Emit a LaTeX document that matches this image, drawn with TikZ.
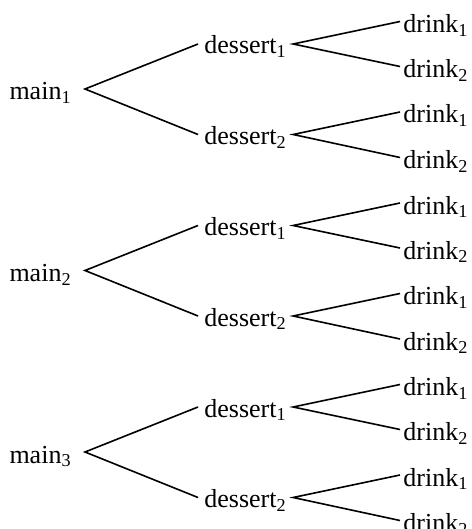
\documentclass[tikz,border=0pt]{standalone}
\usepackage{fontspec}
\setmainfont{Liberation Serif}
\begin{document}
\begin{tikzpicture}[x=0.5pt,y=-0.5pt,
  lbl/.style={font=\fontsize{13}{15}\selectfont, inner ysep=0pt, text depth=0pt},
  mainnode/.style={lbl, anchor=east, inner xsep=6.5pt, text height=11pt},
  dessertnode/.style={lbl, anchor=west, inner xsep=3pt, text height=10pt},
  drinknode/.style={lbl, anchor=west, inner xsep=1.5pt, text height=11pt},
  edge/.style={line width=0.8pt}]
\useasboundingbox (0,0) rectangle (471,529);
\foreach \g/\n in {0/1,1/2,2/3}{
  \pgfmathsetmacro{\oy}{89+181.5*\g}
  \node[mainnode] (m\n) at (85,\oy) {main\textsubscript{\n}};
  \node[dessertnode] (d\n a) at (198,\oy-45) {dessert\textsubscript{1}};
  \node[dessertnode] (d\n b) at (198,\oy+45.5) {dessert\textsubscript{2}};
  \node[drinknode] (k\n a1) at (400,\oy-67.5) {drink\textsubscript{1}};
  \node[drinknode] (k\n a2) at (400,\oy-22.5) {drink\textsubscript{2}};
  \node[drinknode] (k\n b1) at (400,\oy+23) {drink\textsubscript{1}};
  \node[drinknode] (k\n b2) at (400,\oy+68.5) {drink\textsubscript{2}};
  \draw[edge] (d\n a.west) -- (m\n.east) -- (d\n b.west);
  \draw[edge] (k\n a1.west) -- (d\n a.east) -- (k\n a2.west);
  \draw[edge] (k\n b1.west) -- (d\n b.east) -- (k\n b2.west);
}
\end{tikzpicture}
\end{document}
